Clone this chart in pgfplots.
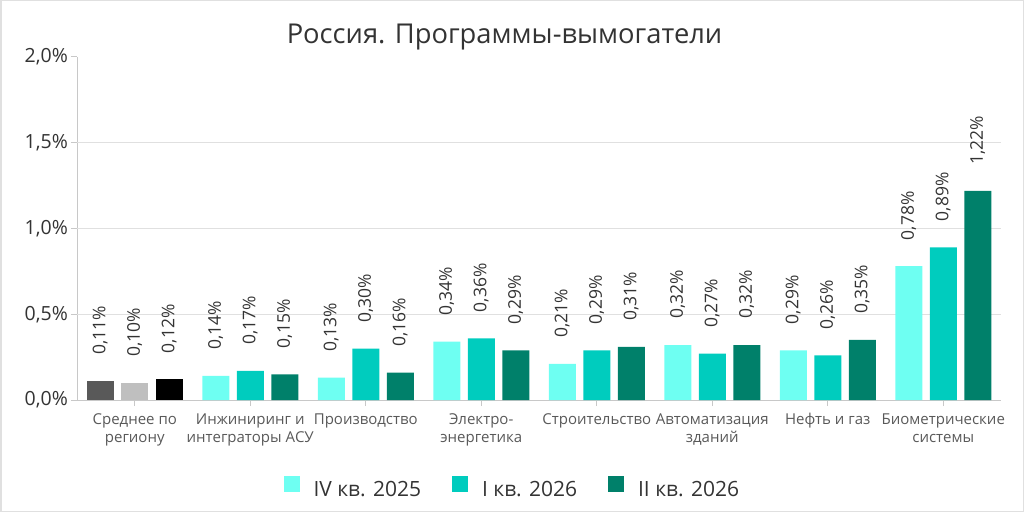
\documentclass[border=0pt]{standalone}
\usepackage{pgfplots}
\pgfplotsset{compat=1.18}
\usepackage{fontspec}
\setmainfont{Open Sans}
\definecolor{c1}{HTML}{6EFFF2}
\definecolor{c2}{HTML}{00CCBE}
\definecolor{c3}{HTML}{00806A}
\definecolor{g1}{HTML}{595959}
\definecolor{g2}{HTML}{BFBFBF}
\definecolor{axisgray}{HTML}{C8C8C8}
\definecolor{gridgray}{HTML}{E0E0E0}
\definecolor{txt}{HTML}{333333}
\begin{document}
\begin{tikzpicture}[x=1pt,y=1pt]
\useasboundingbox (0,0) rectangle (1024,512);
\draw[gridgray, line width=1.5pt] (0.75,0.75) rectangle (1023.25,511.25);
\node[anchor=base, font=\fontsize{27.3}{31}\selectfont, text=txt, inner sep=0pt] at (504.5,468) {Россия. Программы-вымогатели};
\begin{axis}[
  at={(77pt,112pt)}, anchor=south west,
  scale only axis, width=924pt, height=343pt,
  xmin=-0.5, xmax=7.5, ymin=0, ymax=2,
  axis x line*=bottom, axis y line*=left,
  axis line style={axisgray, line width=1pt},
  clip=false,
  xtick={0,...,7},
  xticklabels={{Среднее по\\региону},{Инжиниринг и\\интеграторы АСУ},{Производство},{Электро-\\энергетика},{Строительство},{Автоматизация\\зданий},{Нефть и газ},{Биометрические\\системы}},
  ytick={0,0.5,1,1.5,2},
  extra y ticks={0.5,1,1.5},
  extra y tick labels={,,},
  extra y tick style={grid=major, major tick length=0pt},
  major grid style={gridgray, line width=1pt},
  tick align=outside, major tick length=6pt,
  tick style={axisgray, line width=1pt},
  /pgf/number format/assume math mode=true,
  yticklabel={\pgfmathprintnumber[fixed,fixed zerofill,precision=1,use comma]{\tick}\%},
  yticklabel style={font=\fontsize{19.5}{22}\selectfont, text=txt, inner sep=3pt},
  xticklabel style={font=\fontsize{15}{18}\selectfont, align=center, text=g1, yshift=-4pt},
  ybar, bar width=27pt,
  point meta=y,
  nodes near coords={\pgfmathprintnumber[fixed,fixed zerofill,precision=2,use comma]{\pgfplotspointmeta}\%},
  every node near coord/.append style={yshift=24pt, rotate=90, anchor=west, inner sep=2pt, font=\fontsize{17.5}{20}\selectfont, text=txt},
  legend columns=3,
  legend image code/.code={\fill[#1] (0pt,-2pt) rectangle (16pt,14pt);},
  legend style={at={(0.47,-0.254)}, anchor=center, draw=none, fill=none,
    font=\fontsize{21}{25}\selectfont, text=txt,
    nodes={inner sep=0pt},
    /tikz/every odd column/.append style={column sep=14pt},
    /tikz/every even column/.append style={column sep=31pt}},
]
\addplot[fill=g1, draw=none, bar shift=-34.5pt, forget plot] coordinates {(0,0.11)};
\addplot[fill=g2, draw=none, bar shift=0pt, forget plot] coordinates {(0,0.10)};
\addplot[fill=black, draw=none, bar shift=34.5pt, forget plot] coordinates {(0,0.12)};
\addplot[fill=c1, draw=none, bar shift=-34.5pt] coordinates {(1,0.14)(2,0.13)(3,0.34)(4,0.21)(5,0.32)(6,0.29)(7,0.78)};
\addlegendentry{IV кв. 2025}
\addplot[fill=c2, draw=none, bar shift=0pt] coordinates {(1,0.17)(2,0.30)(3,0.36)(4,0.29)(5,0.27)(6,0.26)(7,0.89)};
\addlegendentry{I кв. 2026}
\addplot[fill=c3, draw=none, bar shift=34.5pt] coordinates {(1,0.15)(2,0.16)(3,0.29)(4,0.31)(5,0.32)(6,0.35)(7,1.22)};
\addlegendentry{II кв. 2026}
\end{axis}
\end{tikzpicture}
\end{document}
